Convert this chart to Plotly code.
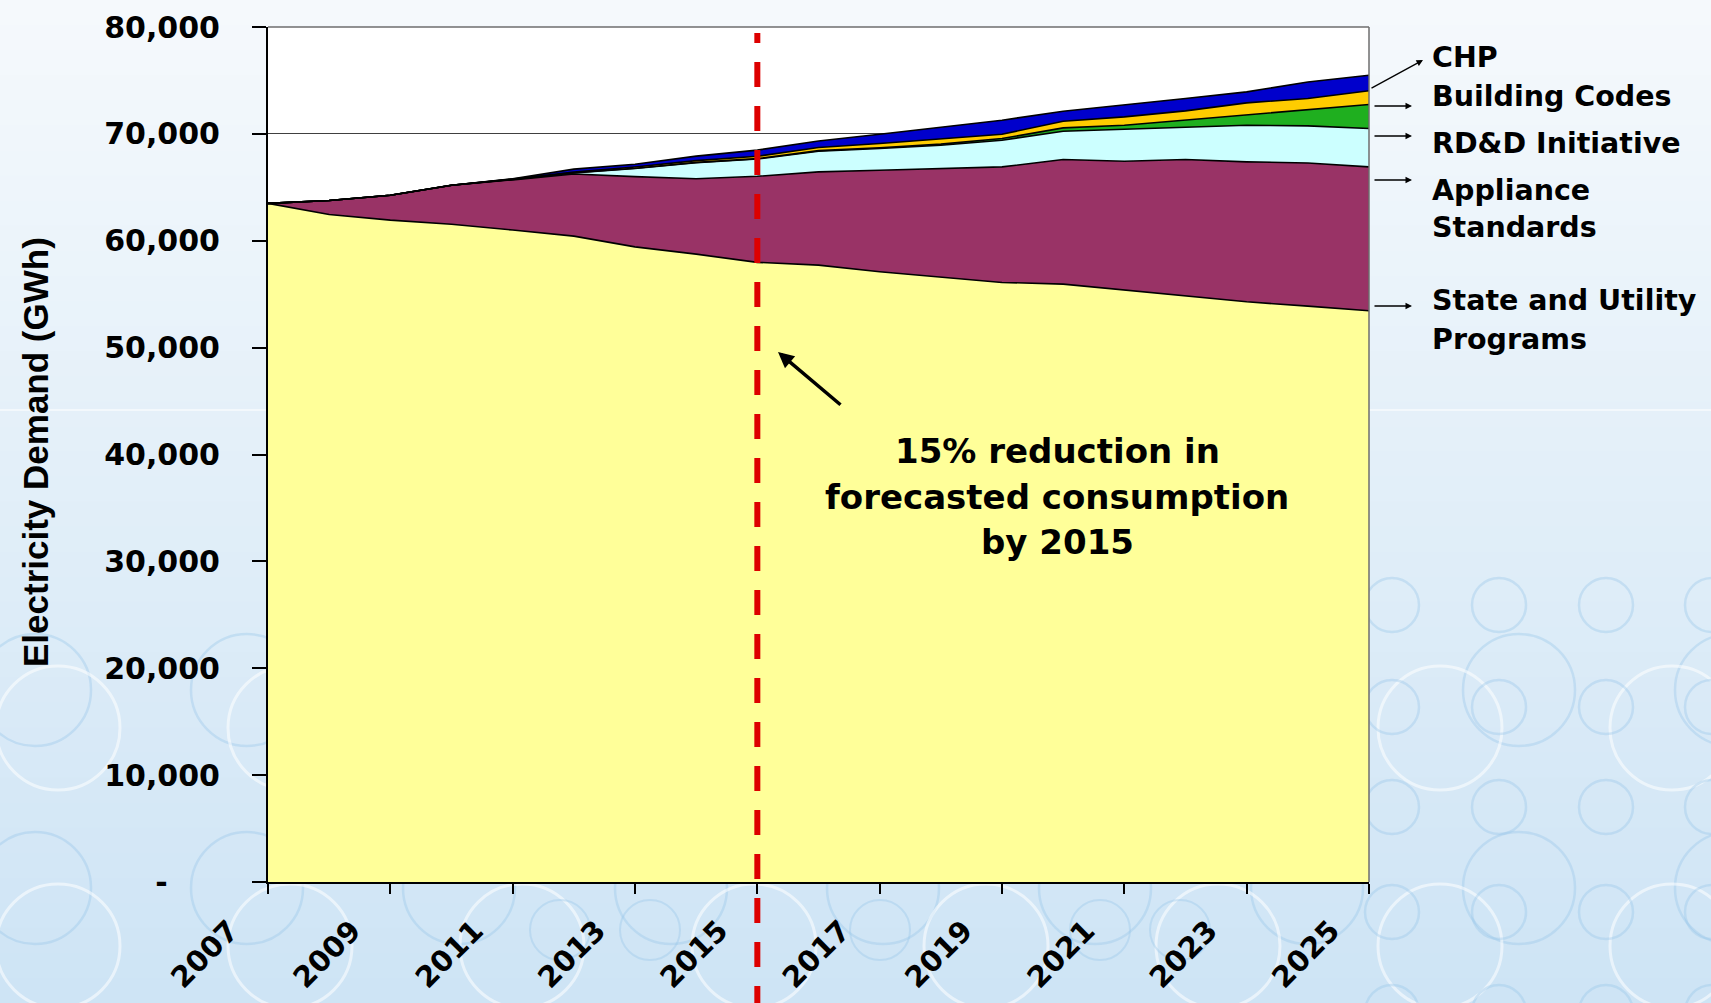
import plotly.graph_objects as go

# ---- data (GWh) ----
years = list(range(2007, 2026))
remaining_demand = [63500, 62450, 61930, 61550, 61000, 60430, 59430, 58750, 57980, 57720,
                    57100, 56630, 56100, 55940, 55380, 54850, 54290, 53880, 53450]
state_utility = [0, 1320, 2330, 3650, 4700, 5820, 6570, 7050, 8050, 8720,
                 9500, 10130, 10810, 11660, 12060, 12750, 13090, 13400, 13460]
appliance_standards = [0, 0, 0, 0, 40, 100, 760, 1500, 1620, 1940,
                       2030, 2180, 2500, 2650, 2990, 3050, 3430, 3470, 3590]
rdd_initiative = [0, 0, 0, 0, 10, 20, 20, 30, 30, 50,
                  70, 100, 150, 310, 380, 630, 1000, 1530, 2250]
building_codes = [0, 0, 0, 0, 20, 50, 120, 170, 220, 290,
                  400, 460, 410, 620, 780, 870, 1090, 1030, 1280]
chp = [0, 0, 0, 0, 30, 280, 260, 420, 580, 620,
       870, 1150, 1310, 940, 1090, 1160, 1030, 1550, 1450]

series_names = ["Remaining Demand", "State and Utility Programs", "Appliance Standards",
                "RD&D Initiative", "Building Codes", "CHP"]
series_values = [remaining_demand, state_utility, appliance_standards,
                 rdd_initiative, building_codes, chp]
series_colors = ["#FFFF99", "#993366", "#CCFFFF", "#1FAF1F", "#FFCC00", "#0000CC"]

y_tick_vals = [0, 10000, 20000, 30000, 40000, 50000, 60000, 70000, 80000]
y_tick_text = ["-\u00a0\u00a0\u00a0\u00a0\u00a0", "10,000", "20,000", "30,000", "40,000",
               "50,000", "60,000", "70,000", "80,000"]
x_tick_vals = years[::2]
target_year = 2015

# ---- canvas geometry ----
W, H = 1711, 1003
L, R, T, B = 268, 342, 27, 121
PW, PH = W - L - R, H - T - B


def px(x):
    """pixel x -> paper x"""
    return (x - L) / PW


def py(y):
    """pixel y (from top) -> paper y"""
    return (H - B - y) / PH


BOLD = "DejaVu Sans"

fig = go.Figure()
for name, vals, col in zip(series_names, series_values, series_colors):
    fig.add_trace(go.Scatter(
        x=years, y=vals, name=name, mode="lines",
        stackgroup="demand", fillcolor=col,
        line=dict(color="black", width=1.6),
        hoverinfo="skip", showlegend=False,
    ))

shapes = []

# slide background: soft vertical blue gradient
n_bands = 40
top_c, bot_c = (245, 249, 252), (206, 228, 245)
for i in range(n_bands):
    t = i / (n_bands - 1)
    c = tuple(round(a + (b - a) * t) for a, b in zip(top_c, bot_c))
    shapes.append(dict(type="rect", xref="paper", yref="paper", layer="below",
                       x0=px(0), x1=px(W), y0=py(H * (i + 1) / n_bands + 1), y1=py(H * i / n_bands),
                       fillcolor="rgb(%d,%d,%d)" % c, line=dict(width=0)))
# faint horizontal seam in the slide background
shapes.append(dict(type="line", xref="paper", yref="paper", layer="below",
                   x0=px(0), x1=px(W), y0=py(410), y1=py(410),
                   line=dict(color="rgba(255,255,255,0.7)", width=1.5)))
# white plot area
shapes.append(dict(type="rect", xref="paper", yref="paper", layer="below",
                   x0=0, x1=1, y0=0, y1=1, fillcolor="white", line=dict(width=0)))

# decorative rings
blue_ring = "rgba(150,196,232,0.36)"
white_ring = "rgba(255,255,255,0.55)"


def ring(cx, cy, r, color, width):
    shapes.append(dict(type="circle", xref="paper", yref="paper", layer="below",
                       x0=px(cx - r), x1=px(cx + r), y0=py(cy + r), y1=py(cy - r),
                       line=dict(color=color, width=width)))


for cx in [35, 247, 459, 671, 883, 1095, 1307, 1519, 1731]:
    for cy in [690, 888, 1086]:
        ring(cx, cy, 56, blue_ring, 2.5)
for cx in [58, 290, 522, 754, 986, 1218, 1440, 1672]:
    for cy in [728, 946]:
        ring(cx, cy, 62, white_ring, 3)
for cx in [1392, 1499, 1606, 1712]:
    for cy in [605, 707, 807, 912, 1012]:
        ring(cx, cy, 27, blue_ring, 2.5)
for cx in [560, 650, 880, 1100, 1180]:
    ring(cx, 930, 30, blue_ring, 2)

# plot frame (top and right)
shapes.append(dict(type="line", xref="paper", yref="paper", layer="above",
                   x0=0, x1=1, y0=1, y1=1, line=dict(color="#6E6E6E", width=1.5)))
shapes.append(dict(type="line", xref="paper", yref="paper", layer="above",
                   x0=1, x1=1, y0=0, y1=1, line=dict(color="#6E6E6E", width=1.5)))

# red dashed marker at the target year
x_target = (target_year - years[0]) / (years[-1] - years[0])
shapes.append(dict(type="line", xref="paper", yref="paper", layer="above",
                   x0=x_target, x1=x_target, y0=py(33), y1=py(43),
                   line=dict(color="#DD0000", width=6)))
shapes.append(dict(type="line", xref="paper", yref="paper", layer="above",
                   x0=x_target, x1=x_target, y0=py(62), y1=py(1012),
                   line=dict(color="#DD0000", width=6, dash="25px,19px")))

annotations = []

# series labels on the right with small pointer arrows
label_font = dict(family=BOLD, size=28.5, color="black", weight="bold")
for text, y in [("CHP", 57), ("Building Codes", 96), ("RD&D Initiative", 143),
                ("Appliance", 190), ("Standards", 228),
                ("State and Utility", 300), ("Programs", 339)]:
    annotations.append(dict(xref="paper", yref="paper", x=px(1430), y=py(y),
                            text=text, showarrow=False, xanchor="left", yanchor="middle",
                            font=label_font))
for hx, hy, tx, ty in [(1423, 60, 1370, 89), (1412, 106, 1373, 106), (1412, 136, 1373, 136),
                       (1412, 180, 1373, 180), (1412, 306, 1373, 306)]:
    annotations.append(dict(xref="paper", yref="paper", x=px(hx), y=py(hy), text="",
                            showarrow=True, ax=tx - hx, ay=ty - hy, arrowhead=2,
                            arrowsize=1, arrowwidth=1.3, arrowcolor="black", standoff=0))

# callout
callout_font = dict(family=BOLD, size=34, color="black", weight="bold")
for text, y in [("15% reduction in", 451), ("forecasted consumption", 497), ("by 2015", 542)]:
    annotations.append(dict(xref="paper", yref="paper", x=px(1057), y=py(y),
                            text=text, showarrow=False, xanchor="center", yanchor="middle",
                            font=callout_font))
annotations.append(dict(xref="paper", yref="paper", x=px(778), y=py(352), text="",
                        showarrow=True, ax=64, ay=54, arrowhead=2, arrowsize=0.9,
                        arrowwidth=3.5, arrowcolor="black", standoff=0))

# y axis title
annotations.append(dict(xref="paper", yref="paper", x=px(35), y=py(452),
                        text="Electricity Demand (GWh)", textangle=-90, showarrow=False,
                        xanchor="center", yanchor="middle",
                        font=dict(family="Liberation Sans", size=35, color="black", weight="bold")))

fig.update_layout(
    width=W, height=H,
    margin=dict(l=L, r=R, t=T, b=B, pad=0, autoexpand=False),
    paper_bgcolor="#E8F1F9",
    plot_bgcolor="white",
    shapes=shapes,
    annotations=annotations,
    showlegend=False,
    xaxis=dict(
        range=[years[0], years[-1]], tickvals=x_tick_vals,
        ticktext=[str(v) for v in x_tick_vals], tickangle=-45,
        ticks="outside", ticklen=10, tickwidth=1.5, tickcolor="black",
        showline=True, linecolor="black", linewidth=2,
        showgrid=False, zeroline=False, automargin=False,
        tickfont=dict(family=BOLD, size=29, color="black", weight="bold"),
        ticklabelstandoff=8, ticklabelshift=-38,
    ),
    yaxis=dict(
        range=[0, 80000], tickvals=y_tick_vals, ticktext=y_tick_text,
        ticks="outside", ticklen=14, tickwidth=1.5, tickcolor="black",
        showline=True, linecolor="black", linewidth=2,
        showgrid=True, gridcolor="#404040", gridwidth=1, zeroline=False, automargin=False,
        tickfont=dict(family=BOLD, size=30, color="black", weight="bold"),
        ticklabelstandoff=26,
    ),
)

fig.write_html("out.html")
